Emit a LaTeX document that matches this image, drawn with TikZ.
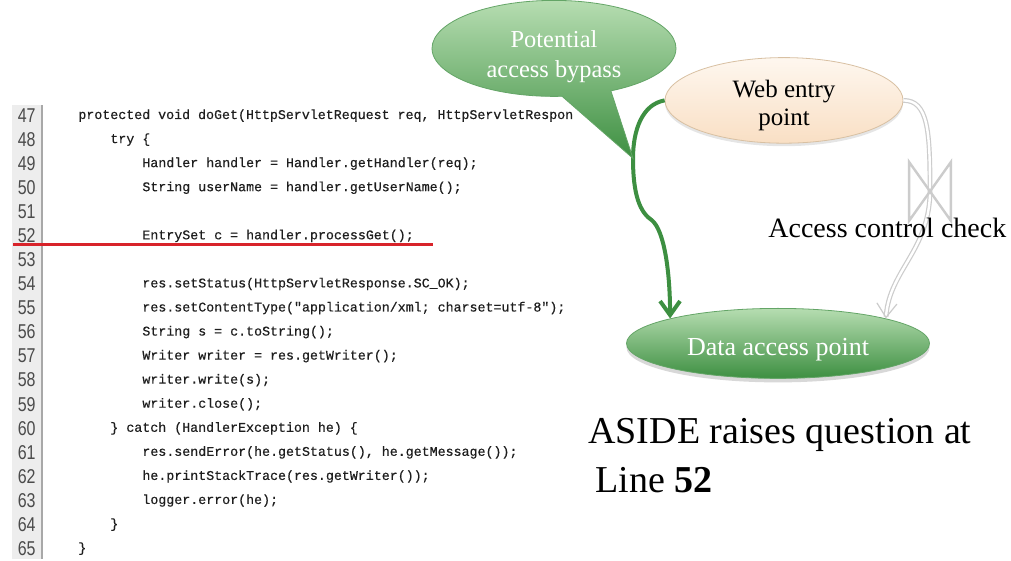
\documentclass[tikz,border=0pt]{standalone}
\usepackage{fontspec}
\setmainfont{Liberation Serif}
\newfontfamily\codefont{Liberation Mono}[FakeBold=0.4]
\newfontfamily\numfont{Liberation Sans}[FakeStretch=0.8]
\usetikzlibrary{positioning,arrows.meta,shapes.geometric,shapes.callouts,shadows}

\definecolor{leafgreen}{HTML}{3D8F41}
\definecolor{palegreen}{HTML}{B6DDB1}
\definecolor{peach}{HTML}{F9DFC4}
\definecolor{cream}{HTML}{FEF7EF}
\definecolor{tanline}{HTML}{D8C0A2}
\definecolor{checkgray}{HTML}{CCCCCC}
\definecolor{guttergray}{HTML}{EDEDED}
\definecolor{rulegray}{HTML}{A8A8A8}
\definecolor{markred}{HTML}{D8232A}
\definecolor{ink}{HTML}{1E1E1E}

\begin{document}
\begin{tikzpicture}[
    x=0.5pt, y=-0.5pt,
    lineno/.style={anchor=east, inner sep=0pt, text=ink!80,
      font=\numfont\fontsize{10}{10}\selectfont},
    codeline/.style={anchor=west, inner sep=0pt, text=ink,
      text height=5pt, text depth=1.4pt,
      font=\codefont\fontsize{6.65}{8}\selectfont},
    entry/.style={ellipse, draw=tanline, thin, top color=cream, bottom color=peach,
      minimum width=119pt, minimum height=35pt, inner sep=0pt, align=center,
      font=\fontsize{12.5}{14}\selectfont, text height=27.6pt,
      drop shadow={shadow xshift=0pt, shadow yshift=-1.5pt, opacity=0.2}},
    sink/.style={ellipse, draw=leafgreen!80, thin, top color=palegreen, bottom color=leafgreen,
      text=white, minimum width=151.5pt, minimum height=35pt, inner sep=0pt,
      font=\fontsize{13}{15}\selectfont, text height=14.5pt,
      drop shadow={shadow xshift=0pt, shadow yshift=-2pt, opacity=0.3}},
    bubble/.style={ellipse callout, draw=leafgreen!80, thin, top color=palegreen,
      bottom color=leafgreen, text=white, minimum width=122pt, minimum height=41pt,
      inner sep=0pt, align=center, callout pointer arc=24,
      font=\fontsize{12.2}{15}\selectfont, text height=31.3pt},
    bypass/.style={leafgreen, line width=2pt, -{Straight Barb[length=7pt,width=10pt]}},
    checked/.style={draw=checkgray, double=white, line width=0.6pt, double distance=1.2pt,
      -{Straight Barb[length=7pt,width=10pt]}},
    gate/.style={inner sep=0pt, minimum width=20.5pt, minimum height=29pt},
    checktext/.style={font=\fontsize{14}{16}\selectfont, inner sep=0pt, anchor=base west},
    note/.style={font=\fontsize{19}{22}\selectfont, inner sep=0pt, anchor=base west}
  ]

  \path[fill=white] (0,0) rectangle (1011,559);

  % gutter with the line numbers
  \fill[guttergray] (12,105) rectangle (42,559);
  \draw[rulegray, line width=0.8pt] (42,105) -- (42,559);
  \foreach \n [count=\i from 0] in {47,...,65}
    \node[lineno] (n\n) at (36,115+24.06*\i) {\n};

  % the servlet code
  \node[codeline] (c47) at (78,0 |- n47) {protected void doGet(HttpServletRequest req, HttpServletRespon};
  \node[codeline] (c48) at (110,0 |- n48) {try \{};
  \node[codeline] (c49) at (142,0 |- n49) {Handler handler = Handler.getHandler(req);};
  \node[codeline] (c50) at (142,0 |- n50) {String userName = handler.getUserName();};
  \node[codeline] (c52) at (142,0 |- n52) {EntrySet c = handler.processGet();};
  \node[codeline] (c54) at (142,0 |- n54) {res.setStatus(HttpServletResponse.SC\_OK);};
  \node[codeline] (c55) at (142,0 |- n55) {res.setContentType("application/xml; charset=utf-8");};
  \node[codeline] (c56) at (142,0 |- n56) {String s = c.toString();};
  \node[codeline] (c57) at (142,0 |- n57) {Writer writer = res.getWriter();};
  \node[codeline] (c58) at (142,0 |- n58) {writer.write(s);};
  \node[codeline] (c59) at (142,0 |- n59) {writer.close();};
  \node[codeline] (c60) at (110,0 |- n60) {\} catch (HandlerException he) \{};
  \node[codeline] (c61) at (142,0 |- n61) {res.sendError(he.getStatus(), he.getMessage());};
  \node[codeline] (c62) at (142,0 |- n62) {he.printStackTrace(res.getWriter());};
  \node[codeline] (c63) at (142,0 |- n63) {logger.error(he);};
  \node[codeline] (c64) at (110,0 |- n64) {\}};
  \node[codeline] (c65) at (78,0 |- n65) {\}};

  % line 52 marked
  \draw[markred, line width=1.2pt] (13,244) -- (433,244);

  % entry and data access points
  \node[entry] (web) at (784,100) {Web entry\\point};
  \node[sink] (data) at (778,343) {Data access point};

  % guarded path through the check
  \draw[checked] (web.east) .. controls (928,100) and (930,130) .. (930,190)
    .. controls (930,250) and (889,270) .. (data.13);
  \node[gate] (gate) at (930,191) {};
  \draw[checkgray, line width=1.2pt] (gate.north west) -- (gate.south west)
    -- (gate.north east) -- (gate.south east) -- cycle;
  \node[checktext] (check) at (768,237) {Access control check};

  % unguarded path
  \draw[bypass] (web.west) .. controls (642,104) and (633,130) .. (633,158) coordinate (tip)
    .. controls (633,195) and (640,212) .. (652,220)
    .. controls (664,230) and (670,270) .. (data.167);
  \node[bubble, callout absolute pointer={(tip)}] (bypass) at (554,48) {Potential\\access bypass};

  \node[note] (aside) at (588,443) {ASIDE raises question at};
  \node[note] (line) at (595,492) {Line \textbf{52}};

\end{tikzpicture}
\end{document}
